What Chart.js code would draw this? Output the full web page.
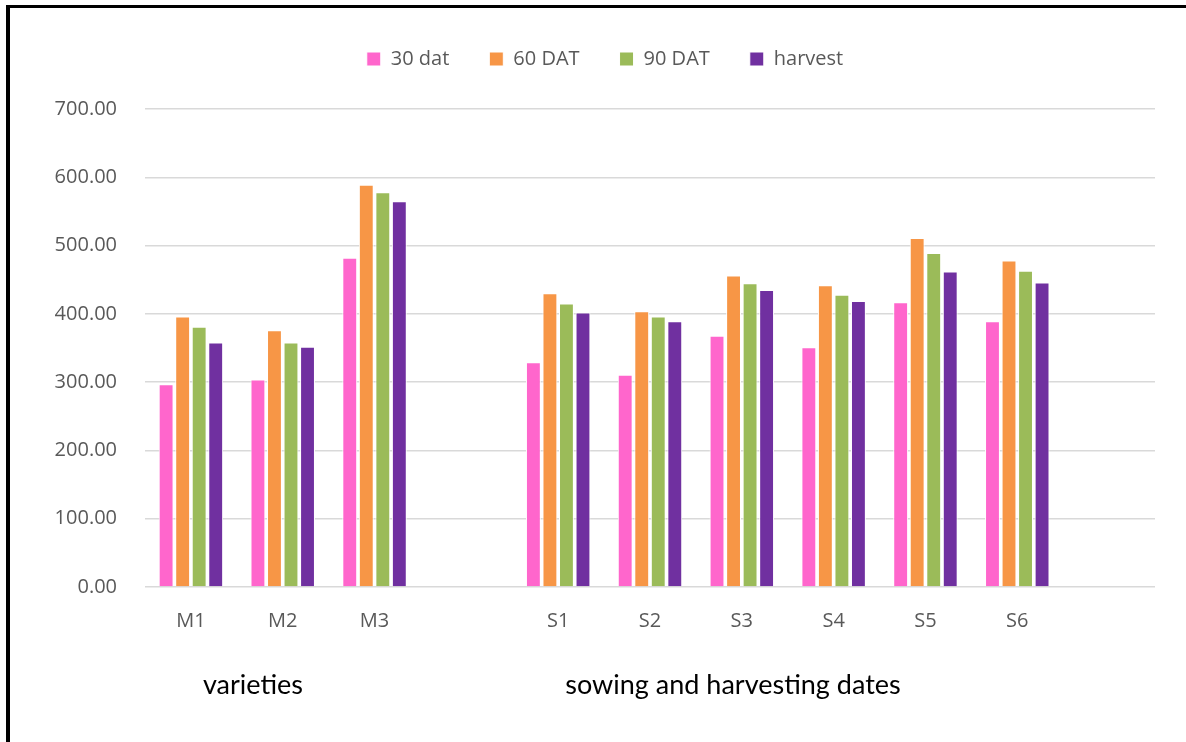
<!DOCTYPE html>
<html>
<head>
<meta charset="utf-8">
<title>Growth by variety and sowing date</title>
<script src="https://cdn.jsdelivr.net/npm/chart.js@4.4.1/dist/chart.umd.min.js"></script>
<style>
  html, body { margin: 0; padding: 0; background: #ffffff; }
  #wrap { position: relative; width: 1186px; height: 742px; overflow: hidden; }
  #frame {
    position: absolute; left: 6px; top: 5px; right: -10px; bottom: -10px;
    border-left: 4px solid #000; border-top: 3px solid #000;
    pointer-events: none;
  }
  canvas { position: absolute; left: 0; top: 0; }
</style>
</head>
<body>
<div id="wrap">
  <canvas id="chart" width="1186" height="742"></canvas>
  <div id="frame"></div>
</div>
<script>
// Categories: three varieties, a spacer, six sowing dates, a trailing spacer
const categories = ['M1', 'M2', 'M3', '', 'S1', 'S2', 'S3', 'S4', 'S5', 'S6', ''];

// Values per growth stage (null = spacer slot)
const dat30   = [297, 304, 482, null, 329, 311, 368, 351, 417, 389, null];
const dat60   = [396, 376, 589, null, 430, 404, 456, 442, 511, 478, null];
const dat90   = [381, 358, 578, null, 415, 396, 445, 428, 489, 463, null];
const harvest = [358, 352, 565, null, 402, 389, 435, 419, 462, 446, null];

const seriesNames = ['30 dat', '60 DAT', '90 DAT', 'harvest'];
const seriesColors = ['#FF66CC', '#F79646', '#9BBB59', '#7030A0'];

const yTicks = { min: 0, max: 700, step: 100 };

const groupTitles = [
  { text: 'varieties', x: 253 },
  { text: 'sowing and harvesting dates', x: 733 }
];

const tickFont = { family: "'Open Sans', 'DejaVu Sans', sans-serif", size: 20 };
const tickColor = '#595959';

// Free-standing group captions under the axis
const groupCaptions = {
  id: 'groupCaptions',
  afterDraw(chart) {
    const ctx = chart.ctx;
    ctx.save();
    ctx.fillStyle = '#000000';
    ctx.font = "27px Lato, 'Open Sans', sans-serif";
    ctx.textAlign = 'center';
    ctx.textBaseline = 'middle';
    groupTitles.forEach(t => ctx.fillText(t.text, t.x, 685));
    ctx.restore();
  }
};

// Leave extra room between the legend row and the plot area
const legendGap = {
  id: 'legendGap',
  beforeLayout(chart) {
    const lg = chart.legend;
    if (lg && !lg._gapAdded) {
      const fit = lg.fit.bind(lg);
      lg.fit = function () { fit(); this.height += 30; };
      lg._gapAdded = true;
    }
  }
};

const series = [dat30, dat60, dat90, harvest];

new Chart(document.getElementById('chart'), {
  type: 'bar',
  data: {
    labels: categories,
    datasets: series.map((vals, i) => ({
      label: seriesNames[i],
      data: vals,
      backgroundColor: seriesColors[i],
      borderColor: '#ffffff',
      borderWidth: 1,
      barPercentage: 0.9,
      categoryPercentage: 0.72
    }))
  },
  options: {
    responsive: false,
    animation: false,
    layout: { padding: { left: 55, right: 31, top: 9, bottom: 0 } },
    plugins: {
      legend: {
        position: 'top',
        labels: {
          boxWidth: 14,
          boxHeight: 14,
          padding: 40,
          color: tickColor,
          font: tickFont
        }
      },
      tooltip: { enabled: false }
    },
    scales: {
      x: {
        grid: { display: false, drawTicks: false },
        border: { display: false },
        ticks: { color: tickColor, font: tickFont, padding: 22, autoSkip: false, maxRotation: 0 },
        afterFit(scale) { scale.height = 155; }
      },
      y: {
        min: yTicks.min,
        max: yTicks.max,
        grid: { color: '#D9D9D9', lineWidth: 1.5, drawTicks: false },
        border: { display: false },
        ticks: {
          stepSize: yTicks.step,
          color: tickColor,
          font: tickFont,
          padding: 28,
          callback: v => Number(v).toFixed(2)
        },
        afterFit(scale) { scale.width = 90; }
      }
    }
  },
  plugins: [groupCaptions, legendGap]
});
</script>
</body>
</html>
